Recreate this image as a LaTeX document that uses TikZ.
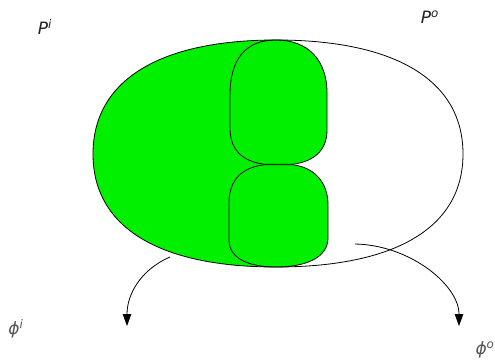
\documentclass[tikz,border=0pt]{standalone}
\usepackage{fontspec}
\setmainfont{DejaVu Sans}
\usetikzlibrary{arrows.meta}
\definecolor{ingreen}{RGB}{0,240,0}
\definecolor{labelgray}{RGB}{35,35,35}
\definecolor{phigray}{RGB}{85,85,85}

\begin{document}
\begin{tikzpicture}[x=1pt, y=-1pt, >={Triangle[length=12pt, width=8.5pt]},
    outline/.style={black, line width=0.8pt},
    lbl/.style={font=\fontsize{17}{20}\selectfont\itshape, inner sep=0pt}]
    \useasboundingbox (0,0) rectangle (495,361);
    % --- P^i: left half, filled ---
    \fill[ingreen] (276,40) .. controls (160,40) and (93,80) .. (93,154)
      .. controls (93,228) and (160,267) .. (276,267) -- cycle;
    % --- two lobes between P^i and P^o ---
    \filldraw[outline, fill=ingreen] (276,40) .. controls (245,40) and (230,60) .. (230,95)
      -- (230,128) .. controls (230,152) and (245,162) .. (265,164.3)
      -- (292,164.3) .. controls (312,162) and (327,152) .. (327,130)
      -- (327,93) .. controls (327,60) and (308,40) .. (276,40) -- cycle;
    \filldraw[outline, fill=ingreen] (265,164.7) .. controls (242,167) and (229,180) .. (229,203)
      -- (229,240) .. controls (229,258) and (248,267) .. (276,267)
      .. controls (305,267) and (328,258) .. (328,238)
      -- (328,205) .. controls (328,182) and (314,167) .. (292,164.7) -- cycle;
    % --- outer outline, P^o on the right ---
    \draw[outline] (276,40) .. controls (160,40) and (93,80) .. (93,154)
      .. controls (93,228) and (160,267) .. (276,267)
      .. controls (395,267) and (463,228) .. (463,154)
      .. controls (463,80) and (395,40) .. (276,40) -- cycle;
    % --- labels ---
    \node[lbl, text=labelgray] (Pi) at (45,27) {P\textsuperscript{i}};
    \node[lbl, text=labelgray] (Po) at (430,17) {P\textsuperscript{o}};
    \node[lbl, text=phigray] (phii) at (16,329) {ϕ\textsuperscript{i}};
    \node[lbl, text=phigray] (phio) at (485,350) {ϕ\textsuperscript{o}};
    % --- maps out of the lower boundary ---
    \coordinate (ifrom) at (170,257);
    \coordinate (ito) at (127,326);
    \coordinate (ofrom) at (355,244);
    \coordinate (oto) at (459,326);
    \draw[->, line width=0.8pt] (ifrom) .. controls (140,270) and (127,295) .. (ito);
    \draw[->, line width=0.8pt] (ofrom) .. controls (410,245) and (459,285) .. (oto);
\end{tikzpicture}
\end{document}
